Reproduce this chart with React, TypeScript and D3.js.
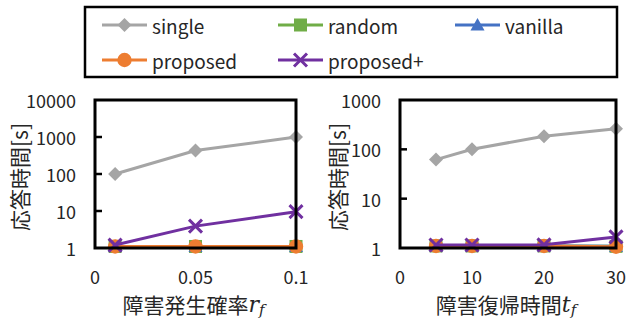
import React from 'react';
import * as d3 from 'd3';

// chart values
const seriesNames = ['single', 'random', 'vanilla', 'proposed', 'proposed+'];
const seriesColors = ['#a5a5a5', '#70ad47', '#4472c4', '#ed7d31', '#7030a0'];
const seriesMarkers = ['diamond', 'square', 'triangle', 'circle', 'cross'];

const rateX = [0.01, 0.05, 0.1];
const rateSingle = [100, 430, 1000];
const rateRandom = [1.1, 1.1, 1.1];
const rateVanilla = [1.1, 1.1, 1.1];
const rateProposed = [1.1, 1.1, 1.1];
const rateProposedPlus = [1.2, 3.9, 9.6];
const rateXTicks = [0, 0.05, 0.1];
const rateYTicks = [1, 10, 100, 1000, 10000];

const recoverX = [5, 10, 20, 30];
const recoverSingle = [62, 100, 185, 260];
const recoverRandom = [1.1, 1.1, 1.1, 1.08];
const recoverVanilla = [1.1, 1.1, 1.1, 1.08];
const recoverProposed = [1.1, 1.1, 1.1, 1.06];
const recoverProposedPlus = [1.15, 1.15, 1.16, 1.68];
const recoverXTicks = [0, 10, 20, 30];
const recoverYTicks = [1, 10, 100, 1000];

const FONT = "'Noto Sans CJK JP', 'Noto Sans', sans-serif";
const TEXT = '#262626';

function Marker({ type, x, y, color }: { type: string; x: number; y: number; color: string }) {
  if (type === 'diamond') {
    const r = 7;
    return <path d={`M${x},${y - r}L${x + r},${y}L${x},${y + r}L${x - r},${y}Z`} fill={color} />;
  }
  if (type === 'square') {
    const r = 6.5;
    return <rect x={x - r} y={y - r} width={2 * r} height={2 * r} fill={color} />;
  }
  if (type === 'triangle') {
    const r = 7;
    return <path d={`M${x},${y - r}L${x + r},${y + r * 0.8}L${x - r},${y + r * 0.8}Z`} fill={color} />;
  }
  if (type === 'circle') {
    return <circle cx={x} cy={y} r={7.2} fill={color} />;
  }
  const r = 6.5;
  return (
    <path d={`M${x - r},${y - r}L${x + r},${y + r}M${x - r},${y + r}L${x + r},${y - r}`}
      stroke={color} strokeWidth={3} fill="none" />
  );
}

function Panel(props: {
  xs: number[]; series: number[][]; xDomain: [number, number]; xRange: [number, number];
  yMax: number; xTicks: number[]; yTicks: number[];
  title: string; sym: string; yTitleX: number;
}) {
  const { xs, series, xDomain, xRange, yMax, xTicks, yTicks, title, sym, yTitleX } = props;
  const x = d3.scaleLinear().domain(xDomain).range(xRange);
  const y = d3.scaleLog().domain([1, yMax]).range([248, 100]);
  const line = d3.line<number>().x((_, i) => x(xs[i])).y((d) => y(d));
  const [x0, x1] = xRange;
  const titleCx = (x0 + x1) / 2 - 2;
  return (
    <g>
      {series.map((vals, s) => (
        <g key={s}>
          <path d={line(vals) || ''} fill="none" stroke={seriesColors[s]} strokeWidth={3} />
          {vals.map((v, i) => (
            <Marker key={i} type={seriesMarkers[s]} x={x(xs[i])} y={y(v)} color={seriesColors[s]} />
          ))}
        </g>
      ))}
      <rect x={x0} y={100} width={x1 - x0} height={148} fill="none" stroke="#000" strokeWidth={3} />
      {yTicks.map((t) => (
        <g key={t}>
          {t !== 1 && t !== yMax && (
            <line x1={x0} x2={x0 + 7} y1={y(t)} y2={y(t)} stroke="#000" strokeWidth={2.5} />
          )}
          <text x={x0 - 19} y={y(t)} textAnchor="end" dominantBaseline="central"
            fontSize={18} fontFamily={FONT} fill={TEXT}>{t}</text>
        </g>
      ))}
      {xTicks.map((t) => (
        <text key={t} x={x(t)} y={276} textAnchor="middle" dominantBaseline="central"
          fontSize={18} fontFamily={FONT} fill={TEXT}>{String(t)}</text>
      ))}
      <text x={titleCx} y={304} textAnchor="middle" dominantBaseline="central"
        fontSize={21} fontFamily={FONT} fill={TEXT}>
        {title}
        <tspan fontFamily="'DejaVu Serif', serif" fontStyle="italic" fontSize={22}>{sym}</tspan>
        <tspan fontFamily="'DejaVu Serif', serif" fontStyle="italic" fontSize={15} dy={6}>f</tspan>
      </text>
      <text transform={`translate(${yTitleX},177) rotate(-90)`} textAnchor="middle"
        dominantBaseline="central" fontSize={21} fontFamily={FONT} fill={TEXT}>応答時間[s]</text>
    </g>
  );
}

function Legend() {
  const cols = [102, 278, 455];
  const rows = [25, 60];
  return (
    <g>
      <rect x={85} y={7} width={532} height={70} fill="#fff" stroke="#000" strokeWidth={2.5} />
      {seriesNames.map((name, i) => {
        const cx = cols[i % 3];
        const cy = rows[Math.floor(i / 3)];
        return (
          <g key={name}>
            <line x1={cx} x2={cx + 45} y1={cy} y2={cy} stroke={seriesColors[i]} strokeWidth={3} />
            <Marker type={seriesMarkers[i]} x={cx + 22.5} y={cy} color={seriesColors[i]} />
            <text x={cx + 50} y={cy} dominantBaseline="central" fontSize={19}
              fontFamily={FONT} fill={TEXT}>{name}</text>
          </g>
        );
      })}
    </g>
  );
}

export default function App() {
  return (
    <div style={{ position: 'absolute', left: 0, top: 0 }}>
      <svg width={628} height={321} style={{ display: 'block', background: '#fff' }}>
        <Legend />
        <Panel xs={rateX}
          series={[rateSingle, rateRandom, rateVanilla, rateProposed, rateProposedPlus]}
          xDomain={[0, 0.1]} xRange={[95, 296]} yMax={10000}
          xTicks={rateXTicks} yTicks={rateYTicks}
          title="障害発生確率" sym="r" yTitleX={19} />
        <Panel xs={recoverX}
          series={[recoverSingle, recoverRandom, recoverVanilla, recoverProposed, recoverProposedPlus]}
          xDomain={[0, 30]} xRange={[400, 616]} yMax={1000}
          xTicks={recoverXTicks} yTicks={recoverYTicks}
          title="障害復帰時間" sym="t" yTitleX={337} />
      </svg>
    </div>
  );
}
